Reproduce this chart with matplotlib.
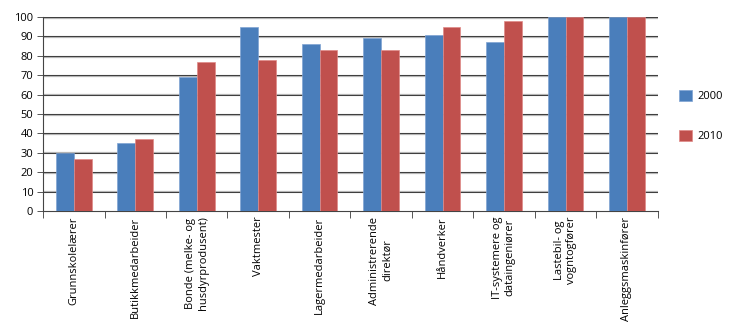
import matplotlib.pyplot as plt
import numpy as np

plt.rcParams['font.family'] = ['Open Sans', 'DejaVu Sans']

categories = ['Grunnskolelærer', 'Butikkmedarbeider', 'Bonde (melke- og\nhusdyrprodusent)',
              'Vaktmester', 'Lagermedarbeider', 'Administrerende\ndirektør', 'Håndverker',
              'IT-systemere og\ndataingeniører', 'Lastebil- og\nvogntogfører', 'Anleggsmaskinfører']
values_2000 = [30, 35, 69, 95, 86, 89, 91, 87, 100, 100]
values_2010 = [27, 37, 77, 78, 83, 83, 95, 98, 100, 100]
years = ['2000', '2010']

fig = plt.figure(figsize=(7.3, 3.32), dpi=100)
ax = fig.add_axes([0.059, 0.3645, 0.842, 0.584])

x = np.arange(len(categories))
w = 0.29
b1 = ax.bar(x - w / 2, values_2000, w, color='#4a7ebb', edgecolor='#7fa3d3', linewidth=0.5,
            label=years[0], zorder=3)
b2 = ax.bar(x + w / 2, values_2010, w, color='#c0504d', edgecolor='#e08a88', linewidth=0.5,
            label=years[1], zorder=3)

# gridlines with a light shadow
for yv in range(10, 101, 10):
    ax.axhline(yv - 0.35, color='#b5b5b5', lw=1.6, zorder=1)
    ax.axhline(yv, color='#3c3c3c', lw=0.7, zorder=2)

ax.set_xlim(-0.5, len(categories) - 0.5)
ax.set_ylim(0, 100)
ax.set_yticks(range(0, 101, 10))
ax.set_xticks(np.arange(-0.5, len(categories), 1))
ax.set_xticklabels([])
ax.set_xticks(x, minor=True)
ax.set_xticklabels(categories, minor=True, rotation=90, ha='center', va='top',
                   multialignment='center', fontsize=8)
ax.tick_params(axis='x', which='minor', length=0, pad=4)
ax.tick_params(axis='x', which='major', length=5, width=0.7, color='#555555')
ax.tick_params(axis='y', length=4, width=0.7, color='#555555', labelsize=8, pad=3)

for s in ['top', 'right']:
    ax.spines[s].set_visible(False)
for s in ['left', 'bottom']:
    ax.spines[s].set_color('#444444')
    ax.spines[s].set_linewidth(0.8)

fig.legend(handles=[b1, b2], labels=years, loc='center left', bbox_to_anchor=(0.917, 0.65),
           frameon=False, fontsize=8, handlelength=1.1, handleheight=1.1,
           handletextpad=0.5, labelspacing=2.5)

fig.savefig('out.png', dpi=100)
